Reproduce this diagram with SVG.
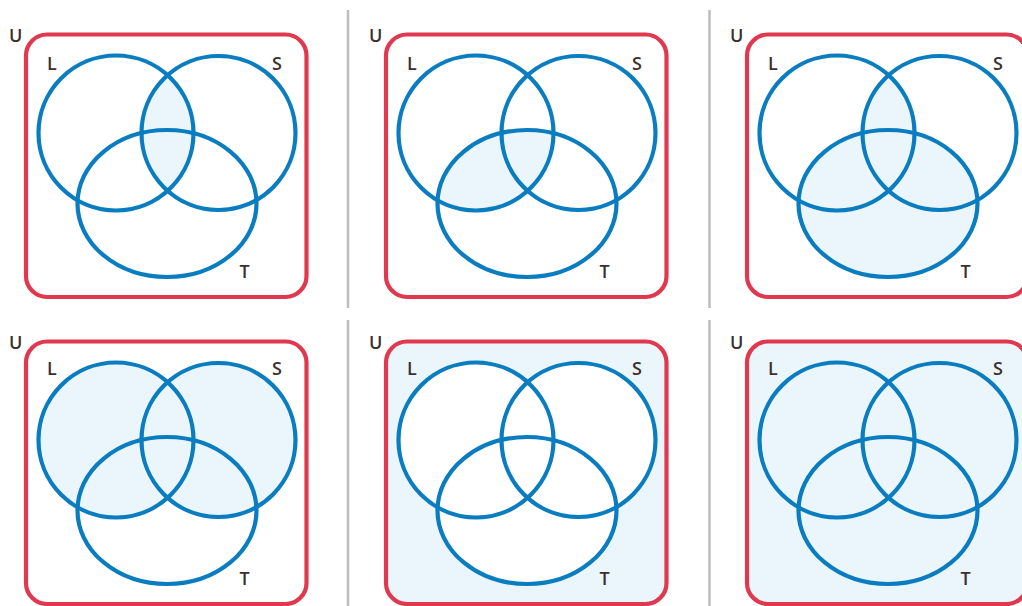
<svg xmlns="http://www.w3.org/2000/svg" xmlns:xlink="http://www.w3.org/1999/xlink" width="1022" height="606" viewBox="0 0 1022 606">
<style>
.u{fill:none;stroke:#e0384f;stroke-width:4.2}
.c{fill:none;stroke:#0a7dc1;stroke-width:4.2}
.sh{fill:#eaf5fc;stroke:none}
.wh{fill:#ffffff;stroke:none}
.lb{font-family:"Open Sans","Liberation Sans",sans-serif;font-size:18px;font-weight:600;fill:#3b302c}
.sep{stroke:#bdbdbd;stroke-width:2.5}
</style>
<defs>
<rect id="U" x="26" y="34.5" width="280.5" height="262.5" rx="21"/>
<circle id="L" cx="116" cy="133" r="77.5"/>
<circle id="S" cx="218.5" cy="133" r="77"/>
<ellipse id="T" cx="167" cy="203.5" rx="89.5" ry="73.5"/>
<clipPath id="clipL"><use xlink:href="#L"/></clipPath>
</defs>
<g id="connectors">
<line class="sep" x1="348" y1="10" x2="348" y2="308"/>
<line class="sep" x1="709.5" y1="10" x2="709.5" y2="308"/>
<line class="sep" x1="348" y1="320" x2="348" y2="606"/>
<line class="sep" x1="709.5" y1="320" x2="709.5" y2="606"/>
</g>
<g id="panel1">
<use xlink:href="#S" class="sh" clip-path="url(#clipL)"/>
<use xlink:href="#U" class="u"/>
<use xlink:href="#L" class="c"/><use xlink:href="#S" class="c"/><use xlink:href="#T" class="c"/>
<text class="lb" x="9" y="42">U</text><text class="lb" x="47" y="70">L</text><text class="lb" x="272" y="70">S</text><text class="lb" x="239.5" y="277.5">T</text>
</g>
<g id="panel2" transform="translate(360,0)">
<use xlink:href="#T" class="sh" clip-path="url(#clipL)"/>
<use xlink:href="#U" class="u"/>
<use xlink:href="#L" class="c"/><use xlink:href="#S" class="c"/><use xlink:href="#T" class="c"/>
<text class="lb" x="9" y="42">U</text><text class="lb" x="47" y="70">L</text><text class="lb" x="272" y="70">S</text><text class="lb" x="239.5" y="277.5">T</text>
</g>
<g id="panel3" transform="translate(721,0)">
<use xlink:href="#S" class="sh" clip-path="url(#clipL)"/>
<use xlink:href="#T" class="sh"/>
<use xlink:href="#U" class="u"/>
<use xlink:href="#L" class="c"/><use xlink:href="#S" class="c"/><use xlink:href="#T" class="c"/>
<text class="lb" x="9" y="42">U</text><text class="lb" x="47" y="70">L</text><text class="lb" x="272" y="70">S</text><text class="lb" x="239.5" y="277.5">T</text>
</g>
<g id="panel4" transform="translate(0,307)">
<use xlink:href="#L" class="sh"/><use xlink:href="#S" class="sh"/>
<use xlink:href="#U" class="u"/>
<use xlink:href="#L" class="c"/><use xlink:href="#S" class="c"/><use xlink:href="#T" class="c"/>
<text class="lb" x="9" y="42">U</text><text class="lb" x="47" y="68">L</text><text class="lb" x="272" y="68">S</text><text class="lb" x="239.5" y="277.5">T</text>
</g>
<g id="panel5" transform="translate(360,307)">
<use xlink:href="#U" class="sh"/>
<use xlink:href="#L" class="wh"/><use xlink:href="#S" class="wh"/><use xlink:href="#T" class="wh"/>
<use xlink:href="#U" class="u"/>
<use xlink:href="#L" class="c"/><use xlink:href="#S" class="c"/><use xlink:href="#T" class="c"/>
<text class="lb" x="9" y="42">U</text><text class="lb" x="47" y="68">L</text><text class="lb" x="272" y="68">S</text><text class="lb" x="239.5" y="277.5">T</text>
</g>
<g id="panel6" transform="translate(721,307)">
<use xlink:href="#U" class="sh"/>
<use xlink:href="#U" class="u"/>
<use xlink:href="#L" class="c"/><use xlink:href="#S" class="c"/><use xlink:href="#T" class="c"/>
<text class="lb" x="9" y="42">U</text><text class="lb" x="47" y="68">L</text><text class="lb" x="272" y="68">S</text><text class="lb" x="239.5" y="277.5">T</text>
</g>
</svg>
